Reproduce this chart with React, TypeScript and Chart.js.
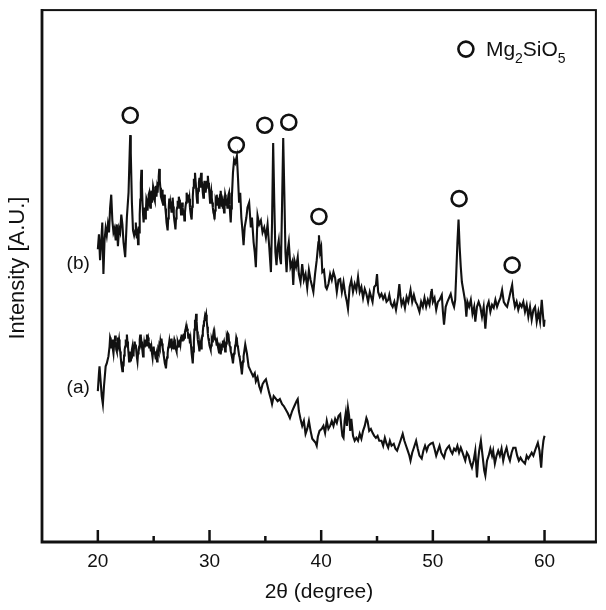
import { useEffect, useRef } from 'react';
import { Chart, registerables } from 'chart.js';

Chart.register(...registerables);

const FONT = '"Liberation Sans", Arial, Helvetica, sans-serif';
const INK = '#111111';

// 2θ axis
const twoThetaMin = 15;
const twoThetaMax = 64.6;
const tickValues = [20, 25, 30, 35, 40, 45, 50, 55, 60];
const labelledTicks = [20, 30, 40, 50, 60];

// Intensity axis (arbitrary units)
const intensityMin = 0;
const intensityMax = 536;
const intensityTitle = 'Intensity [A.U.]';

// (a) scan: [2θ, intensity]
const scanA: [number, number][] = [
  [20.0, 152], [20.1, 170], [20.15, 177], [20.25, 162], [20.35, 147], [20.45, 139], [20.55, 157],
  [20.7, 177], [20.8, 180], [20.95, 187],
  [21.05, 197], [21.1, 206], [21.15, 204], [21.2, 196], [21.25, 197], [21.3, 204], [21.35, 194],
  [21.4, 190], [21.45, 198], [21.5, 200], [21.55, 208], [21.6, 202], [21.65, 194], [21.7, 192],
  [21.75, 197], [21.8, 206], [21.85, 200], [21.9, 204], [21.95, 198], [22.0, 192], [22.05, 186],
  [22.1, 180], [22.15, 176], [22.2, 172], [22.25, 182], [22.3, 177], [22.35, 188], [22.4, 194],
  [22.45, 197], [22.5, 204], [22.55, 200], [22.6, 209], [22.65, 202], [22.7, 197], [22.75, 190],
  [22.8, 182], [22.85, 188], [22.9, 192], [22.95, 182], [23.0, 186], [23.05, 194], [23.1, 197],
  [23.15, 188], [23.2, 190], [23.25, 198], [23.3, 202], [23.35, 196], [23.4, 199], [23.45, 192],
  [23.5, 186], [23.55, 182], [23.6, 190], [23.65, 194], [23.7, 197], [23.75, 204], [23.8, 209],
  [23.85, 200], [23.9, 202], [23.95, 197], [24.0, 192], [24.05, 187], [24.1, 194], [24.15, 200],
  [24.2, 196], [24.25, 202], [24.3, 204], [24.35, 198], [24.4, 209], [24.45, 204], [24.5, 206],
  [24.55, 202], [24.6, 196], [24.65, 200], [24.7, 197], [24.75, 192], [24.8, 196], [24.85, 190],
  [24.9, 186], [24.95, 194], [25.0, 197], [25.05, 190], [25.1, 192], [25.15, 187], [25.2, 184],
  [25.25, 188], [25.3, 182], [25.35, 186], [25.4, 194], [25.45, 192], [25.5, 198], [25.55, 196],
  [25.6, 202], [25.65, 198], [25.7, 205], [25.75, 200], [25.8, 196], [25.85, 192], [25.9, 188],
  [25.95, 184], [26.0, 180], [26.05, 178], [26.1, 175], [26.15, 182], [26.2, 186], [26.25, 190],
  [26.3, 196], [26.35, 198], [26.4, 202], [26.45, 196], [26.5, 200], [26.55, 198], [26.6, 205],
  [26.65, 200], [26.7, 196], [26.75, 195], [26.8, 200], [26.85, 204], [26.9, 202], [26.95, 196],
  [27.0, 194], [27.05, 192], [27.1, 197], [27.15, 202], [27.2, 200], [27.25, 196], [27.3, 202],
  [27.35, 204], [27.4, 200], [27.45, 206], [27.5, 209], [27.55, 203], [27.6, 207], [27.65, 204],
  [27.7, 210], [27.75, 206], [27.8, 212], [27.85, 214], [27.9, 217], [27.95, 212], [28.0, 215],
  [28.05, 212], [28.1, 206], [28.15, 210], [28.2, 207], [28.25, 200], [28.3, 204], [28.35, 197],
  [28.4, 190], [28.45, 185], [28.5, 180], [28.55, 192], [28.6, 202], [28.65, 214], [28.7, 224],
  [28.75, 220], [28.8, 230], [28.85, 222], [28.9, 212], [28.95, 204], [29.0, 200], [29.05, 197],
  [29.1, 192], [29.15, 200], [29.2, 196], [29.25, 195], [29.3, 202], [29.35, 208], [29.4, 212],
  [29.45, 218], [29.5, 222], [29.55, 224], [29.6, 228], [29.65, 226], [29.7, 229], [29.75, 222],
  [29.8, 217], [29.85, 210], [29.9, 205], [29.95, 202], [30.0, 198], [30.05, 196], [30.1, 194],
  [30.15, 198], [30.2, 204], [30.25, 202], [30.3, 206], [30.35, 210], [30.4, 206], [30.45, 210],
  [30.5, 204], [30.55, 206], [30.6, 202], [30.65, 198], [30.7, 201], [30.75, 197], [30.8, 194],
  [30.85, 196], [30.9, 190], [30.95, 194], [31.0, 189], [31.05, 194], [31.1, 200], [31.15, 197],
  [31.2, 203], [31.25, 200], [31.3, 202], [31.35, 198], [31.4, 192], [31.45, 195], [31.5, 200],
  [31.55, 206], [31.6, 204], [31.65, 210], [31.7, 209], [31.75, 202], [31.8, 198], [31.85, 197],
  [31.9, 192], [31.95, 190], [32.0, 187], [32.05, 184], [32.1, 180], [32.15, 186], [32.2, 190],
  [32.25, 192], [32.3, 198], [32.35, 200], [32.4, 206], [32.45, 204], [32.5, 198], [32.55, 196],
  [32.6, 192], [32.65, 188], [32.7, 186], [32.75, 182], [32.8, 178], [32.85, 174], [32.9, 169],
  [32.95, 176], [33.0, 182], [33.05, 187],
  [33.2, 199], [33.35, 190], [33.5, 177], [33.7, 172], [33.9, 167],
  [34.05, 170], [34.15, 162], [34.3, 166], [34.45, 157], [34.6, 152], [34.75, 159], [34.9, 162],
  [35.05, 164], [35.2, 157], [35.35, 150], [35.5, 144], [35.6, 139], [35.75, 147], [35.9, 145],
  [36.1, 142], [36.3, 144], [36.5, 139], [36.65, 137], [36.8, 134], [37.0, 130], [37.2, 125],
  [37.4, 132], [37.6, 137], [37.8, 142], [37.9, 144], [38.0, 132], [38.15, 124], [38.3, 117],
  [38.45, 122], [38.6, 109], [38.75, 114], [38.9, 122], [39.05, 112], [39.2, 104], [39.35, 102],
  [39.5, 100], [39.6, 97], [39.7, 106], [39.85, 112], [40.05, 114], [40.2, 117], [40.35, 110],
  [40.5, 122], [40.65, 114], [40.8, 117], [40.95, 122], [41.1, 117], [41.25, 124], [41.4, 120],
  [41.55, 127], [41.7, 129], [41.8, 117], [41.9, 107], [42.0, 105], [42.1, 122], [42.2, 130],
  [42.3, 117], [42.4, 135], [42.5, 127], [42.6, 112], [42.7, 124], [42.85, 107], [43.0, 102],
  [43.15, 105], [43.3, 102], [43.45, 109], [43.6, 104], [43.75, 112], [43.9, 117], [44.05, 125],
  [44.15, 122], [44.3, 112], [44.45, 114], [44.6, 110], [44.75, 107], [44.9, 105], [45.05, 107],
  [45.2, 102], [45.4, 102], [45.55, 97], [45.7, 105], [45.85, 99], [46.0, 95], [46.15, 102],
  [46.3, 97], [46.5, 99], [46.65, 94], [46.8, 92], [46.95, 97], [47.1, 102], [47.3, 109],
  [47.45, 102], [47.6, 97], [47.75, 92], [47.9, 87], [48.0, 82], [48.15, 90], [48.3, 95],
  [48.5, 102], [48.65, 94], [48.8, 87], [49.0, 84], [49.15, 92], [49.3, 97], [49.45, 92],
  [49.6, 97], [49.8, 99], [50.0, 100], [50.15, 94], [50.3, 87], [50.45, 92], [50.6, 97],
  [50.75, 90], [50.9, 87], [51.0, 85], [51.15, 92], [51.3, 95], [51.45, 97], [51.6, 92],
  [51.75, 89], [51.9, 94], [52.05, 92], [52.2, 97], [52.35, 90], [52.5, 95], [52.6, 92],
  [52.75, 87], [52.9, 82], [53.05, 90], [53.2, 87], [53.35, 80], [53.5, 75], [53.65, 82],
  [53.8, 92], [53.95, 65], [54.05, 82], [54.15, 92], [54.3, 102], [54.45, 87], [54.6, 72],
  [54.7, 67], [54.85, 82], [55.0, 87], [55.15, 94], [55.3, 87], [55.4, 92], [55.55, 79],
  [55.7, 87], [55.85, 92], [56.0, 87], [56.15, 94], [56.3, 82], [56.45, 90], [56.6, 95],
  [56.75, 87], [56.9, 82], [57.05, 90], [57.2, 95], [57.4, 95], [57.55, 87], [57.7, 82],
  [57.85, 85], [58.0, 82], [58.25, 79], [58.4, 87], [58.55, 84], [58.7, 87], [58.85, 90],
  [59.0, 87], [59.15, 92], [59.3, 97], [59.4, 100], [59.55, 92], [59.7, 75], [59.8, 92],
  [59.9, 102], [60.0, 107],
];

// (b) scan: [2θ, intensity]
const scanB: [number, number][] = [
  [20.0, 295], [20.1, 310], [20.2, 284], [20.3, 302], [20.4, 322], [20.5, 270], [20.6, 304],
  [20.7, 316], [20.8, 309], [20.9, 320], [21.0, 312], [21.1, 337], [21.2, 350], [21.3, 324],
  [21.4, 312], [21.5, 316], [21.6, 304], [21.7, 320], [21.8, 298], [21.9, 316], [22.0, 312],
  [22.1, 330], [22.2, 320], [22.3, 302], [22.45, 287], [22.6, 327], [22.75, 352], [22.85, 392],
  [22.9, 410], [22.95, 392], [23.05, 342], [23.15, 314], [23.25, 309],
  [23.35, 314], [23.4, 322], [23.45, 310], [23.5, 306], [23.55, 316], [23.6, 300], [23.65, 318],
  [23.7, 312], [23.75, 330], [23.8, 345], [23.85, 362], [23.9, 375], [23.95, 358], [24.0, 342],
  [24.05, 330], [24.1, 322], [24.15, 334], [24.2, 337], [24.25, 326], [24.3, 332], [24.35, 346],
  [24.4, 344], [24.45, 334], [24.5, 342], [24.55, 350], [24.6, 352], [24.65, 340], [24.7, 337],
  [24.75, 348], [24.8, 354], [24.85, 342], [24.9, 347], [24.95, 358], [25.0, 355], [25.05, 346],
  [25.1, 344], [25.15, 354], [25.2, 359], [25.25, 348], [25.3, 356], [25.35, 352], [25.4, 362],
  [25.45, 368], [25.5, 376], [25.55, 364], [25.6, 357], [25.65, 348], [25.7, 346], [25.75, 355],
  [25.8, 350], [25.85, 340], [25.9, 342], [25.95, 350], [26.0, 344], [26.05, 336], [26.1, 330],
  [26.15, 322], [26.2, 318], [26.25, 314], [26.3, 326], [26.35, 337], [26.4, 346], [26.45, 336],
  [26.5, 342], [26.55, 338], [26.6, 332], [26.65, 342], [26.7, 347], [26.75, 338], [26.8, 330],
  [26.85, 324], [26.9, 320], [26.95, 315], [27.0, 326], [27.05, 334], [27.1, 337], [27.15, 344],
  [27.2, 340], [27.25, 348], [27.3, 345], [27.35, 336], [27.4, 340], [27.45, 330], [27.5, 334],
  [27.55, 342], [27.6, 337], [27.65, 330], [27.7, 334], [27.75, 324], [27.8, 332], [27.85, 338],
  [27.9, 342], [27.95, 352], [28.0, 347], [28.05, 344], [28.1, 350], [28.15, 342], [28.2, 346],
  [28.25, 337], [28.3, 332], [28.35, 328], [28.4, 325], [28.45, 338], [28.5, 348], [28.55, 357],
  [28.6, 366], [28.65, 360], [28.7, 372], [28.75, 364], [28.8, 357], [28.85, 348], [28.9, 342],
  [28.95, 350], [29.0, 354], [29.05, 362], [29.1, 367], [29.15, 358], [29.2, 366], [29.25, 372],
  [29.3, 364], [29.35, 360], [29.4, 352], [29.45, 347], [29.5, 356], [29.55, 364], [29.6, 358],
  [29.65, 352], [29.7, 357], [29.75, 364], [29.8, 360], [29.85, 369], [29.9, 362], [29.95, 357],
  [30.0, 350], [30.05, 342], [30.1, 350], [30.15, 354], [30.2, 347], [30.25, 342], [30.3, 337],
  [30.35, 332], [30.4, 330], [30.45, 325], [30.5, 334], [30.55, 344], [30.6, 342], [30.65, 350],
  [30.7, 340], [30.75, 347], [30.8, 344], [30.85, 337], [30.9, 346], [30.95, 350], [31.0, 354],
  [31.05, 346], [31.1, 338], [31.15, 342], [31.2, 336], [31.25, 340], [31.3, 332], [31.35, 340],
  [31.4, 350], [31.45, 347], [31.5, 340], [31.55, 344], [31.6, 337], [31.65, 345], [31.7, 350],
  [31.75, 352], [31.8, 340], [31.85, 330], [31.9, 322], [31.95, 336], [32.0, 347],
  [32.1, 372], [32.2, 385], [32.3, 382], [32.45, 389], [32.55, 367], [32.65, 342], [32.75, 352],
  [32.85, 327], [32.95, 314], [33.05, 299], [33.15, 317], [33.3, 327], [33.4, 337], [33.55, 342],
  [33.7, 317], [33.8, 327], [33.95, 302], [34.05, 292], [34.15, 277], [34.3, 329], [34.45, 320],
  [34.6, 324], [34.75, 312], [34.9, 317], [35.05, 307], [35.2, 320], [35.35, 297], [35.5, 272],
  [35.6, 322], [35.7, 402], [35.8, 342], [35.9, 292], [36.0, 279], [36.1, 297], [36.2, 304],
  [36.3, 287], [36.4, 280], [36.5, 342], [36.6, 407], [36.7, 352], [36.8, 292], [36.9, 272],
  [37.0, 294], [37.1, 302], [37.25, 277], [37.4, 282], [37.5, 259], [37.6, 284], [37.75, 277],
  [37.9, 287], [38.0, 270], [38.15, 262], [38.3, 280], [38.45, 264], [38.6, 270], [38.75, 256],
  [38.9, 274], [39.05, 264], [39.2, 257], [39.3, 252], [39.45, 270], [39.6, 284], [39.75, 302],
  [39.8, 309], [39.9, 292], [40.0, 297], [40.1, 272], [40.25, 274], [40.4, 257], [40.5, 255],
  [40.65, 260], [40.8, 270], [40.95, 264], [41.1, 272], [41.25, 266], [41.4, 252], [41.55, 264],
  [41.7, 265], [41.85, 252], [42.0, 262], [42.15, 250], [42.3, 242], [42.4, 235], [42.55, 257],
  [42.7, 264], [42.85, 252], [43.0, 260], [43.15, 254], [43.3, 267], [43.45, 252], [43.6, 257],
  [43.75, 246], [43.9, 255], [44.05, 250], [44.2, 242], [44.35, 252], [44.5, 246], [44.6, 242],
  [44.75, 257], [44.9, 259], [45.0, 270], [45.1, 252], [45.25, 247], [45.4, 250], [45.55, 245],
  [45.7, 249], [45.85, 242], [46.0, 244], [46.1, 249], [46.25, 240], [46.4, 237], [46.55, 242],
  [46.7, 234], [46.85, 244], [47.0, 260], [47.1, 247], [47.2, 239], [47.35, 244], [47.5, 236],
  [47.65, 247], [47.8, 242], [48.0, 254], [48.15, 242], [48.3, 249], [48.45, 242], [48.6, 239],
  [48.8, 232], [48.95, 242], [49.1, 237], [49.25, 246], [49.4, 237], [49.55, 244], [49.7, 239],
  [49.85, 252], [49.9, 255], [50.0, 242], [50.15, 246], [50.3, 234], [50.45, 242], [50.6, 244],
  [50.8, 249], [50.9, 232], [51.0, 219], [51.15, 237], [51.3, 242], [51.45, 246], [51.6, 250],
  [51.75, 242], [51.9, 237], [52.0, 244], [52.1, 272], [52.2, 302], [52.3, 325], [52.4, 297],
  [52.5, 277], [52.6, 262], [52.75, 252], [52.9, 242], [53.0, 227], [53.1, 242], [53.25, 237],
  [53.4, 244], [53.55, 230], [53.7, 237], [53.8, 222], [53.95, 237], [54.1, 242], [54.25, 237],
  [54.4, 227], [54.55, 237], [54.7, 215], [54.85, 237], [55.0, 242], [55.15, 232], [55.3, 239],
  [55.45, 236], [55.6, 244], [55.75, 237], [55.9, 242], [56.05, 246], [56.2, 254], [56.35, 242],
  [56.5, 239], [56.65, 237], [56.8, 244], [56.95, 252], [57.1, 259], [57.2, 247], [57.35, 237],
  [57.5, 242], [57.65, 234], [57.8, 240], [57.95, 237], [58.1, 242], [58.25, 232], [58.4, 239],
  [58.55, 227], [58.7, 237], [58.85, 224], [59.0, 234], [59.15, 237], [59.3, 222], [59.45, 232],
  [59.6, 222], [59.75, 244], [59.85, 230], [59.95, 217], [60.0, 224],
];

// Mg2SiO5 reflections marked above scan (b): [2θ, marker level]
const mg2sio5Marks: [number, number][] = [
  [22.9, 430], [32.4, 400], [34.95, 420], [37.1, 423], [39.8, 328], [52.35, 346], [57.1, 279],
];

// Sample tags and the intensity level they sit at
const sampleTags = ['(b)', '(a)'];
const sampleTagLevels = [280, 155];

// Phase name, split into normal and subscript runs
const phaseRuns: [string, boolean][] = [['Mg', false], ['2', true], ['SiO', false], ['5', true]];

const decorPlugin = {
  id: 'xrdDecor',
  afterDraw(chart: any) {
    const { ctx, chartArea, scales } = chart;
    const { left, right, top, bottom } = chartArea;
    const xs = scales.x;
    const ys = scales.y;
    ctx.save();
    ctx.strokeStyle = INK;
    ctx.fillStyle = INK;

    // inward tick marks on the 2θ axis
    ctx.lineWidth = 2.5;
    for (const v of tickValues) {
      const px = xs.getPixelForValue(v);
      const len = labelledTicks.includes(v) ? 12 : 6;
      ctx.beginPath();
      ctx.moveTo(px, bottom);
      ctx.lineTo(px, bottom - len);
      ctx.stroke();
    }

    // plot frame
    ctx.lineWidth = 2;
    ctx.strokeRect(left, top, right - left, bottom - top);
    ctx.lineWidth = 2.8;
    ctx.beginPath();
    ctx.moveTo(left, top - 1);
    ctx.lineTo(left, bottom);
    ctx.lineTo(right + 1, bottom);
    ctx.stroke();

    // intensity axis title, rotated, a little above the middle of the frame
    ctx.save();
    ctx.translate(18, (top + bottom) / 2 - 8);
    ctx.rotate(-Math.PI / 2);
    ctx.font = `22px ${FONT}`;
    ctx.textAlign = 'center';
    ctx.textBaseline = 'middle';
    ctx.fillText(intensityTitle, 0, 0);
    ctx.restore();

    // sample tags left of the scans
    ctx.font = `19px ${FONT}`;
    ctx.textAlign = 'right';
    ctx.textBaseline = 'middle';
    const tagX = xs.getPixelForValue(scanA[0][0]) - 8;
    sampleTags.forEach((t, i) => {
      ctx.fillText(t, tagX, ys.getPixelForValue(sampleTagLevels[i]));
    });

    // phase key
    const kx = right - 130;
    const ky = top + 39;
    ctx.lineWidth = 2.6;
    ctx.beginPath();
    ctx.arc(kx, ky, 7.5, 0, Math.PI * 2);
    ctx.stroke();
    ctx.textAlign = 'left';
    ctx.textBaseline = 'alphabetic';
    let tx = kx + 20;
    for (const [run, sub] of phaseRuns) {
      ctx.font = sub ? `14px ${FONT}` : `21px ${FONT}`;
      ctx.fillText(run, tx, sub ? ky + 14 : ky + 7);
      tx += ctx.measureText(run).width;
    }
    ctx.restore();
  },
};

export default function App() {
  const canvasRef = useRef<HTMLCanvasElement | null>(null);

  useEffect(() => {
    const canvas = canvasRef.current;
    if (!canvas) return;
    Chart.defaults.font.family = FONT;
    Chart.defaults.color = INK;

    const chart = new Chart(canvas, {
      type: 'line',
      data: {
        datasets: [
          {
            type: 'scatter',
            label: 'Mg2SiO5',
            data: mg2sio5Marks.map(([x, y]) => ({ x, y })),
            showLine: false,
            pointRadius: 7.5,
            pointHoverRadius: 7.5,
            pointBorderWidth: 2.6,
            borderColor: INK,
            backgroundColor: 'rgba(255,255,255,0)',
            clip: false,
            order: 0,
          } as any,
          {
            label: '(b)',
            data: scanB.map(([x, y]) => ({ x, y })),
            borderColor: INK,
            borderWidth: 2.1,
            pointRadius: 0,
            tension: 0,
            fill: false,
            order: 1,
          },
          {
            label: '(a)',
            data: scanA.map(([x, y]) => ({ x, y })),
            borderColor: INK,
            borderWidth: 2.1,
            pointRadius: 0,
            tension: 0,
            fill: false,
            order: 2,
          },
        ],
      },
      options: {
        responsive: false,
        animation: false,
        layout: { padding: { top: 6, right: 4, left: 0, bottom: 0 } },
        plugins: {
          legend: { display: false },
          tooltip: { enabled: false },
        },
        scales: {
          x: {
            type: 'linear',
            min: twoThetaMin,
            max: twoThetaMax,
            afterBuildTicks: (scale: any) => {
              scale.ticks = tickValues.map((value) => ({ value }));
            },
            afterFit: (scale: any) => {
              scale.height = 68;
              scale.paddingLeft = 0;
              scale.paddingRight = 0;
            },
            ticks: {
              autoSkip: false,
              maxRotation: 0,
              padding: 0,
              color: INK,
              font: { size: 19, family: FONT },
              callback: (v: any) => (labelledTicks.includes(Number(v)) ? String(v) : ''),
            },
            grid: { display: false },
            border: { display: false },
            title: {
              display: true,
              text: '2θ (degree)',
              color: INK,
              font: { size: 21, family: FONT },
              padding: { top: 0, bottom: 5 },
            },
          },
          y: {
            type: 'linear',
            min: intensityMin,
            max: intensityMax,
            afterFit: (scale: any) => {
              scale.width = 42;
              scale.paddingTop = 0;
              scale.paddingBottom = 0;
            },
            ticks: { display: false },
            grid: { display: false },
            border: { display: false },
            title: { display: false },
          },
        },
      },
      plugins: [decorPlugin],
    });

    return () => chart.destroy();
  }, []);

  return (
    <div style={{ position: 'absolute', left: 0, top: 0, width: 606, height: 610, background: '#fff' }}>
      <canvas ref={canvasRef} width={606} height={610} style={{ display: 'block' }} />
    </div>
  );
}
